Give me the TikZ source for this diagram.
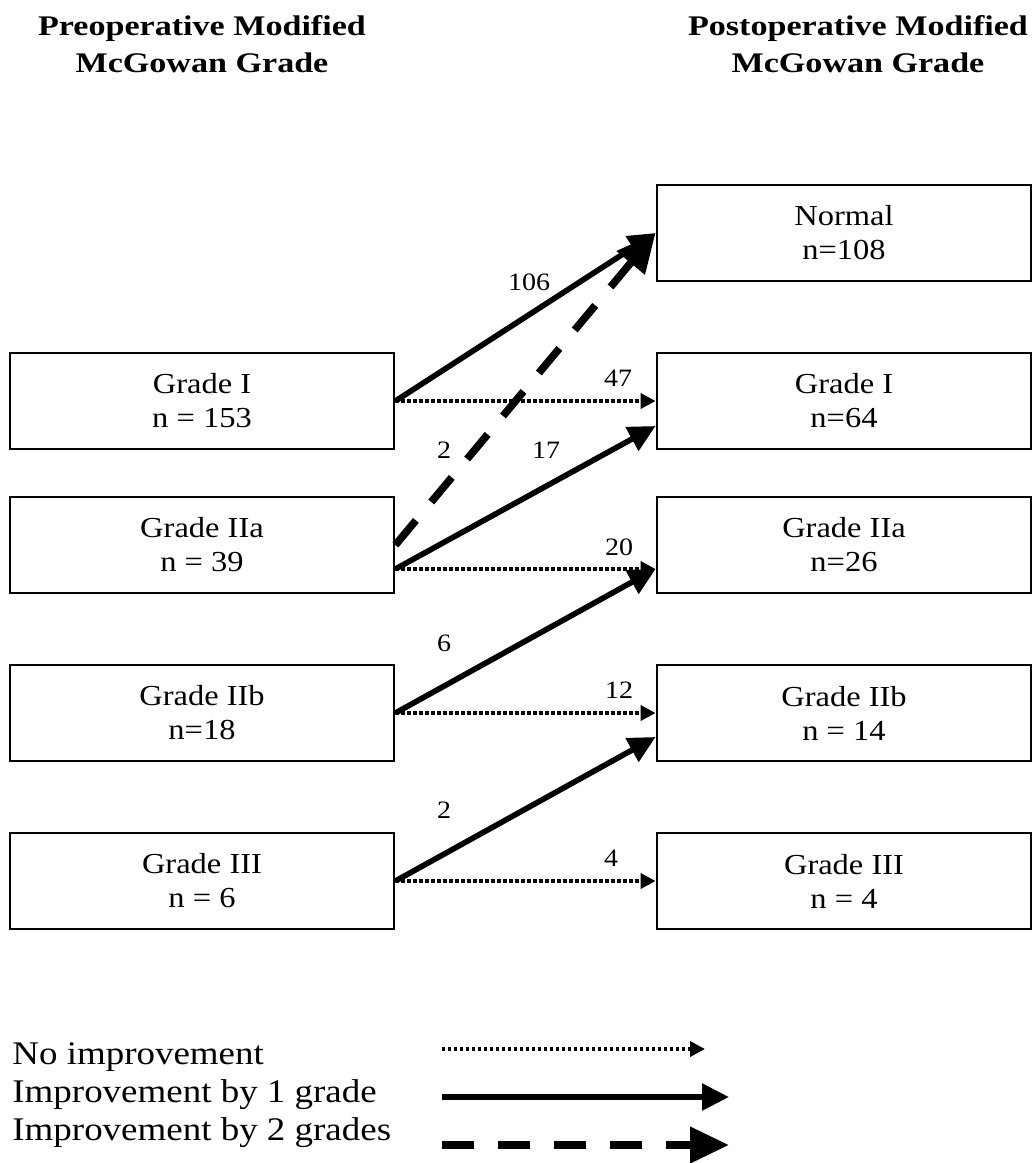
\documentclass[tikz,border=0pt]{standalone}
\usepackage{fontspec}
\setmainfont[FakeStretch=1.12]{Liberation Serif}
\newfontfamily\headfont[FakeStretch=1.2]{Liberation Serif}
\usetikzlibrary{arrows.meta}

\begin{document}
\begin{tikzpicture}[x=0.5pt,y=-0.5pt,
  grade/.style={draw,line width=1.4pt,minimum height=48pt,inner sep=0pt,align=center,
    font=\fontsize{14.5}{17}\selectfont},
  pre/.style={grade,minimum width=192pt},
  post/.style={grade,minimum width=187pt},
  head/.style={align=center,font=\headfont\bfseries\fontsize{14.2}{18.5}\selectfont},
  count/.style={inner sep=0pt,font=\fontsize{12.5}{14}\selectfont},
  key/.style={inner sep=0pt,anchor=base west,font=\fontsize{16.5}{19}\selectfont},
  noimp/.style={line width=1.8pt,dash pattern=on 1.6pt off 1.4pt,
    -{Triangle[length=7.5pt,width=7.5pt]}},
  onegrade/.style={line width=2.8pt,-{Triangle[length=13.5pt,width=13pt]}},
  twogrades/.style={line width=3.8pt,dash pattern=on 16pt off 12pt,
    -{Triangle[length=19.5pt,width=17.5pt]}}]
\useasboundingbox (0,0) rectangle (1033,1163);

% headings
\node[head] (preHead) at (202,44) {Preoperative Modified\\McGowan Grade};
\node[head] (postHead) at (858,44) {Postoperative Modified\\McGowan Grade};

% grades before surgery
\node[pre] (preI) at (202,401) {Grade I\\n = 153};
\node[pre] (preIIa) at (202,545) {Grade IIa\\n = 39};
\node[pre] (preIIb) at (202,713) {Grade IIb\\n=18};
\node[pre] (preIII) at (202,881) {Grade III\\n = 6};

% grades after surgery
\node[post] (postN) at (844,233) {Normal\\n=108};
\node[post] (postI) at (844,401) {Grade I\\n=64};
\node[post] (postIIa) at (844,545) {Grade IIa\\n=26};
\node[post] (postIIb) at (844,713) {Grade IIb\\n = 14};
\node[post] (postIII) at (844,881) {Grade III\\n = 4};

% transitions
\draw[onegrade] (preI.east) -- (postN.west);
\draw[noimp] (preI.east) -- (postI.west);
\draw[twogrades] (preIIa.east) -- (postN.west);
\draw[onegrade] ([yshift=-12pt]preIIa.east) -- ([yshift=-12.5pt]postI.west);
\draw[noimp] ([yshift=-12pt]preIIa.east) -- ([yshift=-12pt]postIIa.west);
\draw[onegrade] (preIIb.east) -- ([yshift=-12pt]postIIa.west);
\draw[noimp] (preIIb.east) -- (postIIb.west);
\draw[onegrade] (preIII.east) -- ([yshift=-12pt]postIIb.west);
\draw[noimp] (preIII.east) -- (postIII.west);

% patient counts
\node[count] (c106) at (529,282) {106};
\node[count] (c47) at (618,378) {47};
\node[count] (c2a) at (444,450) {2};
\node[count] (c17) at (546,450) {17};
\node[count] (c20) at (619,547) {20};
\node[count] (c6) at (444,643) {6};
\node[count] (c12) at (619,690) {12};
\node[count] (c2b) at (444,810) {2};
\node[count] (c4) at (611,858) {4};

% legend
\node[key] (keyNo) at (12,1064) {No improvement};
\node[key] (keyOne) at (12,1102) {Improvement by 1 grade};
\node[key] (keyTwo) at (12,1140) {Improvement by 2 grades};
\coordinate (noA) at (442,1049);
\coordinate (noB) at (705,1049);
\coordinate (oneA) at (442,1097);
\coordinate (oneB) at (729,1097);
\coordinate (twoA) at (442,1145);
\coordinate (twoB) at (729,1145);
\draw[noimp] (noA) -- (noB);
\draw[onegrade] (oneA) -- (oneB);
\draw[twogrades] (twoA) -- (twoB);
\end{tikzpicture}
\end{document}
